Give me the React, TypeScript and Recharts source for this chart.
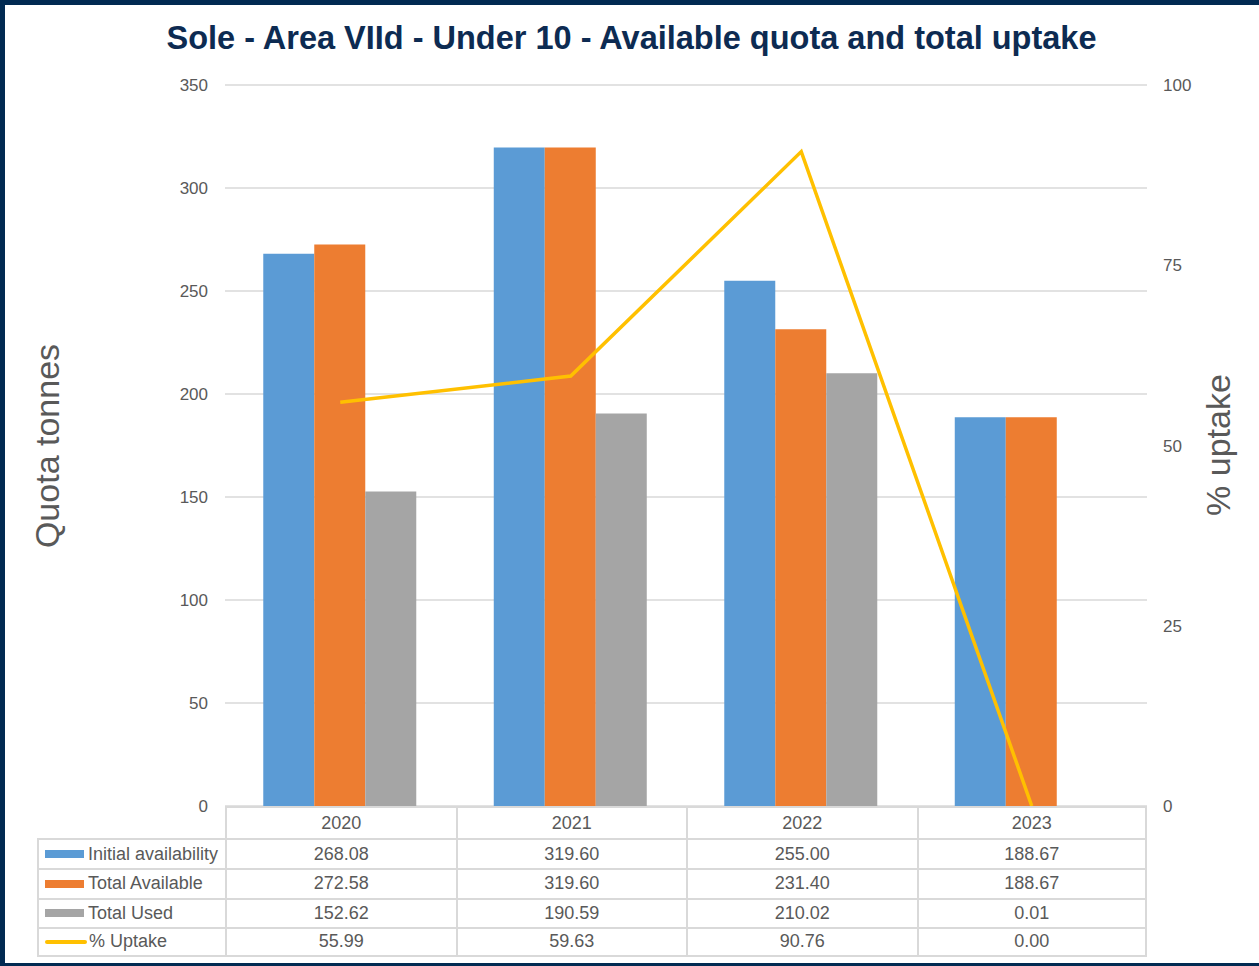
import React from "react";
import { ComposedChart, Bar, Line, XAxis, YAxis, CartesianGrid } from "recharts";

const years = ["2020", "2021", "2022", "2023"];
const initialAvailability = [268.08, 319.6, 255.0, 188.67];
const totalAvailable = [272.58, 319.6, 231.4, 188.67];
const totalUsed = [152.62, 190.59, 210.02, 0.01];
const uptakePct = [55.99, 59.63, 90.76, 0.0];

const quotaTicks = [0, 50, 100, 150, 200, 250, 300, 350];
const uptakeTicks = [0, 25, 50, 75, 100];

const FONT = '"Liberation Sans", Arial, sans-serif';
const GREY_TEXT = "#595959";
const GRID = "#d9d9d9";

const rows = [
  { key: "initial", name: "Initial availability", color: "#5B9BD5", values: initialAvailability, kind: "bar" },
  { key: "available", name: "Total Available", color: "#ED7D31", values: totalAvailable, kind: "bar" },
  { key: "used", name: "Total Used", color: "#A5A5A5", values: totalUsed, kind: "bar" },
  { key: "uptake", name: "% Uptake", color: "#FFC000", values: uptakePct, kind: "line" },
];

const data = years.map((year, i) => ({
  year,
  initial: initialAvailability[i],
  available: totalAvailable[i],
  used: totalUsed[i],
  uptake: uptakePct[i],
}));

// plot area: x 225..1147, y 85..806
const LABEL_COL = 188;
const YEAR_COL = 230.5;
const ROW_H = [32, 30, 29.5, 29.5, 29.5];

const DataTable = () => {
  const cellBorder = `2px solid ${GRID}`;
  return (
    <div style={{ position: "absolute", left: 37, top: 806, fontFamily: FONT, color: GREY_TEXT, fontSize: 18 }}>
      {/* header */}
      <div style={{ display: "flex", height: ROW_H[0] }}>
        <div style={{ width: LABEL_COL }} />
        {years.map((y, i) => (
          <div
            key={y}
            style={{
              width: YEAR_COL,
              boxSizing: "border-box",
              borderTop: cellBorder,
              borderLeft: cellBorder,
              borderRight: i === years.length - 1 ? cellBorder : "none",
              textAlign: "center",
              lineHeight: `${ROW_H[0] - 2}px`,
            }}
          >
            {y}
          </div>
        ))}
      </div>
      {rows.map((r, ri) => (
        <div
          key={r.key}
          style={{
            display: "flex",
            height: ROW_H[ri + 1],
          }}
        >
          <div
            style={{
              width: LABEL_COL,
              boxSizing: "border-box",
              borderTop: cellBorder,
              borderLeft: cellBorder,
              borderBottom: ri === rows.length - 1 ? cellBorder : "none",
              display: "flex",
              alignItems: "center",
              paddingLeft: 6,
              whiteSpace: "nowrap",
            }}
          >
            {r.kind === "bar" ? (
              <span style={{ display: "inline-block", width: 39, height: 8, background: r.color, marginRight: 4 }} />
            ) : (
              <span style={{ display: "inline-block", width: 42, height: 4, borderRadius: 2, background: r.color, marginRight: 2 }} />
            )}
            {r.name}
          </div>
          {r.values.map((v, i) => (
            <div
              key={i}
              style={{
                width: YEAR_COL,
                boxSizing: "border-box",
                borderTop: cellBorder,
                borderLeft: cellBorder,
                borderRight: i === r.values.length - 1 ? cellBorder : "none",
                borderBottom: ri === rows.length - 1 ? cellBorder : "none",
                display: "flex",
                alignItems: "center",
                justifyContent: "center",
              }}
            >
              {v.toFixed(2)}
            </div>
          ))}
        </div>
      ))}
    </div>
  );
};

const AxisTitle = ({ text, cx, cy }: { text: string; cx: number; cy: number }) => (
  <text
    x={cx}
    y={cy}
    transform={`rotate(-90 ${cx} ${cy})`}
    textAnchor="middle"
    dominantBaseline="central"
    fill={GREY_TEXT}
    fontSize={34}
    fontFamily={FONT}
  >
    {text}
  </text>
);

export default function App() {
  return (
    <div style={{ position: "absolute", left: 0, top: 0, width: 1259, height: 966, background: "#fff", fontFamily: FONT }}>
      <div
        style={{
          position: "absolute",
          top: 20,
          left: 0,
          width: 1263,
          textAlign: "center",
          fontSize: 32.5,
          fontWeight: 700,
          color: "#0d2b52",
          whiteSpace: "nowrap",
        }}
      >
        Sole - Area VIId - Under 10 - Available quota and total uptake
      </div>
      <ComposedChart
        width={1259}
        height={966}
        data={data}
        margin={{ top: 85, right: 52, bottom: 160, left: 165 }}
        barCategoryGap="16.6%"
        barGap={0}
        style={{ position: "absolute", left: 0, top: 0 }}
      >
        <CartesianGrid vertical={false} stroke={GRID} strokeWidth={1.5} yAxisId="left" />
        <XAxis dataKey="year" hide />
        <YAxis
          yAxisId="left"
          domain={[0, 350]}
          ticks={quotaTicks}
          width={60}
          tickLine={false}
          axisLine={false}
          tickSize={0}
          tickMargin={17}
          tick={{ fill: GREY_TEXT, fontSize: 17, fontFamily: FONT }}
          label={{ content: () => <AxisTitle text="Quota tonnes" cx={47} cy={446} /> }}
        />
        <YAxis
          yAxisId="right"
          orientation="right"
          domain={[0, 100]}
          ticks={uptakeTicks}
          width={60}
          tickLine={false}
          axisLine={false}
          tickSize={0}
          tickMargin={16}
          tick={{ fill: GREY_TEXT, fontSize: 17, fontFamily: FONT }}
          label={{ content: () => <AxisTitle text="% uptake" cx={1218} cy={445} /> }}
        />
        {rows
          .filter((r) => r.kind === "bar")
          .map((r) => (
            <Bar key={r.key} yAxisId="left" dataKey={r.key} name={r.name} fill={r.color} isAnimationActive={false} />
          ))}
        <Line
          yAxisId="right"
          type="linear"
          dataKey="uptake"
          name="% Uptake"
          stroke="#FFC000"
          strokeWidth={3.5}
          dot={false}
          activeDot={false}
          isAnimationActive={false}
        />
      </ComposedChart>
      <DataTable />
      <div
        style={{
          position: "absolute",
          inset: 0,
          borderTop: "5px solid #012a52",
          borderLeft: "5px solid #012a52",
          borderBottom: "3px solid #012a52",
          pointerEvents: "none",
        }}
      />
    </div>
  );
}
